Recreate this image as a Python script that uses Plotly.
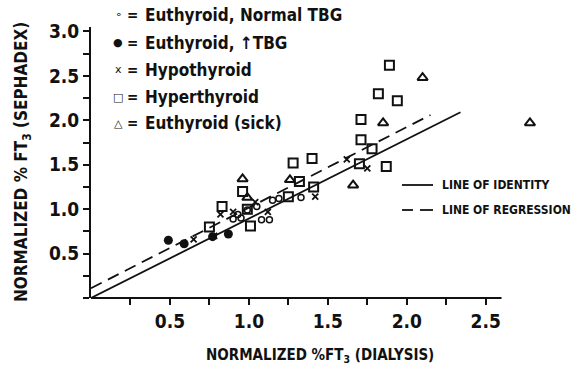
import plotly.graph_objects as go

# ---- data ----
euth_normal_x = [0.90, 0.95, 1.08, 1.13, 0.99, 1.15, 1.19, 1.33, 1.05, 0.93]
euth_normal_y = [0.89, 0.90, 0.88, 0.88, 0.99, 1.10, 1.12, 1.13, 1.03, 0.94]

euth_high_x = [0.49, 0.59, 0.77, 0.87]
euth_high_y = [0.65, 0.61, 0.69, 0.72]

hypo_x = [1.62, 1.75, 1.42, 0.82, 0.90, 1.04, 0.65, 1.12, 0.78]
hypo_y = [1.56, 1.46, 1.14, 0.94, 0.97, 1.08, 0.66, 0.97, 0.70]

hyper_x = [1.89, 1.82, 1.94, 1.71, 1.71, 1.78, 1.40, 1.28, 1.70, 1.87, 1.32, 1.41,
           0.96, 1.25, 0.83, 0.99, 0.75, 1.01]
hyper_y = [2.62, 2.30, 2.22, 2.01, 1.78, 1.68, 1.57, 1.52, 1.51, 1.48, 1.31, 1.25,
           1.20, 1.14, 1.03, 1.00, 0.80, 0.81]

sick_x = [2.78, 2.10, 1.85, 1.66, 0.96, 0.99, 1.26]
sick_y = [1.97, 2.48, 1.97, 1.27, 1.34, 1.13, 1.33]

identity_x = [0.0, 2.34]
identity_y = [0.0, 2.09]
regression_x = [0.0, 2.15]
regression_y = [0.11, 2.06]

x_tick_vals = [0.5, 1.0, 1.5, 2.0, 2.5]
x_tick_text = ["0.5", "1.0", "1.5", "2.0", "2.5"]
x_minor_vals = [0.25, 0.75, 1.25, 1.75, 2.25]
y_tick_vals = [0.5, 1.0, 1.5, 2.0, 2.5, 3.0]
y_tick_text = ["0.5", "1.0", "1.5", "2.0", "2.5", "3.0"]

legend_symbols = ["∘", "●", "x", "□", "△"]
legend_labels = ["Euthyroid, Normal TBG", "Euthyroid, ↑TBG", "Hypothyroid",
                 "Hyperthyroid", "Euthyroid (sick)"]
line_labels = ["LINE OF IDENTITY", "LINE OF REGRESSION"]

FONT = "Liberation Sans Narrow, DejaVu Sans Condensed, Arial Narrow, sans-serif"
BLACK = "#111111"

X_RANGE = [0, 2.85]
X_AXIS_END = 2.6

W, H = 581, 375
L, R, T, B = 91, 40, 27, 77
PW, PH = W - L - R, H - T - B


def px(xp):
    return (xp - L) / PW


def py(yp):
    return (H - B - yp) / PH


fig = go.Figure()

fig.add_trace(go.Scatter(x=identity_x, y=identity_y, mode="lines",
                         line=dict(color=BLACK, width=1.8), hoverinfo="skip"))
fig.add_trace(go.Scatter(x=regression_x, y=regression_y, mode="lines",
                         line=dict(color=BLACK, width=1.8, dash="12px,7px"), hoverinfo="skip"))

fig.add_trace(go.Scatter(x=hyper_x, y=hyper_y, mode="markers",
                         marker=dict(symbol="square-open", size=9, color=BLACK,
                                     line=dict(width=2, color=BLACK))))
fig.add_trace(go.Scatter(x=sick_x, y=sick_y, mode="markers",
                         marker=dict(symbol="triangle-up-open", size=9, color=BLACK,
                                     line=dict(width=2, color=BLACK))))
fig.add_trace(go.Scatter(x=euth_normal_x, y=euth_normal_y, mode="markers",
                         marker=dict(symbol="circle-open", size=6, color=BLACK,
                                     line=dict(width=1.5, color=BLACK))))
fig.add_trace(go.Scatter(x=euth_high_x, y=euth_high_y, mode="markers",
                         marker=dict(symbol="circle", size=9, color=BLACK)))
fig.add_trace(go.Scatter(x=hypo_x, y=hypo_y, mode="markers",
                         marker=dict(symbol="x-thin-open", size=6, color=BLACK,
                                     line=dict(width=1.8, color=BLACK))))

annotations = []
rows_y = [15, 43, 70, 97, 123]
for sym, lab, yy in zip(legend_symbols, legend_labels, rows_y):
    annotations.append(dict(xref="paper", yref="paper", x=px(118), y=py(yy),
                            text=sym, showarrow=False, xanchor="center", yanchor="middle",
                            font=dict(family="DejaVu Sans", size=11, color=BLACK)))
    annotations.append(dict(xref="paper", yref="paper", x=px(132), y=py(yy),
                            text="<b>=</b>", showarrow=False, xanchor="center", yanchor="middle",
                            font=dict(family=FONT, size=15, color=BLACK)))
    annotations.append(dict(xref="paper", yref="paper", x=px(143), y=py(yy),
                            text="<b>" + lab + "</b>", showarrow=False, xanchor="left",
                            yanchor="middle", font=dict(family=FONT, size=17, color=BLACK)))

# line legend
for lab, yy in zip(line_labels, [185, 210]):
    annotations.append(dict(xref="paper", yref="paper", x=px(440), y=py(yy),
                            text="<b>" + lab + "</b>", showarrow=False, xanchor="left",
                            yanchor="middle", font=dict(family=FONT, size=12, color=BLACK)))

annotations.append(dict(xref="paper", yref="paper", x=px(22), y=py(162),
                        text="<b>NORMALIZED % FT<sub>3</sub> (SEPHADEX)</b>", textangle=-90,
                        showarrow=False, xanchor="center", yanchor="middle",
                        font=dict(family=FONT, size=17, color=BLACK)))
annotations.append(dict(xref="paper", yref="paper", x=px(320), y=py(355),
                        text="<b>NORMALIZED %FT<sub>3</sub> (DIALYSIS)</b>",
                        showarrow=False, xanchor="center", yanchor="middle",
                        font=dict(family=FONT, size=15, color=BLACK)))

shapes = [
    dict(type="line", xref="paper", yref="paper", x0=px(402), x1=px(433),
         y0=py(185), y1=py(185), line=dict(color=BLACK, width=1.8)),
    dict(type="line", xref="paper", yref="paper", x0=px(402), x1=px(413),
         y0=py(210), y1=py(210), line=dict(color=BLACK, width=1.8)),
    dict(type="line", xref="paper", yref="paper", x0=px(420), x1=px(433),
         y0=py(210), y1=py(210), line=dict(color=BLACK, width=1.8)),
    # bottom axis line, stopping a little past the last tick
    dict(type="line", xref="paper", yref="paper", x0=0,
         x1=(X_AXIS_END - X_RANGE[0]) / (X_RANGE[1] - X_RANGE[0]), y0=0, y1=0,
         line=dict(color=BLACK, width=2)),
]

fig.update_layout(
    width=W, height=H,
    margin=dict(l=L, r=R, t=T, b=B, pad=0),
    paper_bgcolor="white", plot_bgcolor="white",
    showlegend=False,
    annotations=annotations,
    shapes=shapes,
    xaxis=dict(range=X_RANGE, showgrid=False, zeroline=False, showline=False,
               ticks="outside", ticklen=6, tickwidth=2,
               tickcolor=BLACK, tickvals=x_tick_vals, ticktext=["<b>%s</b>" % t for t in x_tick_text],
               tickfont=dict(family=FONT, size=19, color=BLACK),
               minor=dict(tickvals=x_minor_vals, ticks="outside", ticklen=6, tickwidth=2, tickcolor=BLACK)),
    yaxis=dict(range=[0, 3.05], showgrid=False, zeroline=False, showline=True,
               linecolor=BLACK, linewidth=2, ticks="outside", ticklen=6, tickwidth=2,
               tickcolor=BLACK, tickvals=y_tick_vals, ticktext=["<b>%s</b>" % t for t in y_tick_text],
               tickfont=dict(family=FONT, size=19, color=BLACK),
               minor=dict(dtick=0.25, tick0=0, ticks="outside", ticklen=6, tickwidth=2, tickcolor=BLACK)),
)

fig.write_html("out.html", config={"displayModeBar": False},
               post_script="document.body.style.margin='0';document.body.style.overflow='hidden';")
